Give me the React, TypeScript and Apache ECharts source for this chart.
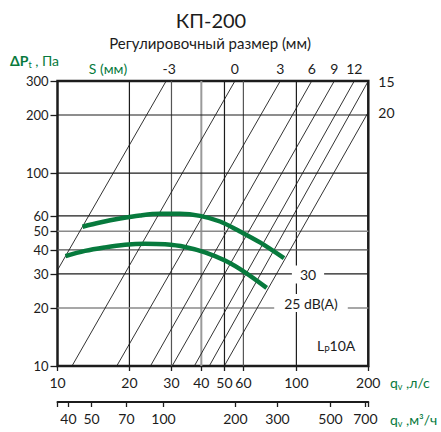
import React, { useEffect, useRef } from "react";
import * as echarts from "echarts";

// axis ticks (l/s, m3/h, Pa)
const X_TICKS = [10, 20, 30, 40, 50, 60, 100, 200];
const X2_TICKS = [40, 50, 70, 100, 200, 300, 500, 700];
const Y_TICKS = [10, 20, 30, 40, 50, 60, 100, 200, 300];
const X_RANGE = [10, 200];
const X2_RANGE = [36, 720];
const Y_RANGE = [10, 300];

// regulation size lines S (mm): start and end points (q l/s, dP Pa)
const S_LABELS = ["-3", "0", "3", "6", "9", "12", "15", "20"];
const S_START_Q = [10, 11.5, 17.7, 24.5, 30.2, 37.4, 43.2, 49.9];
const S_START_P = [31.4, 10, 10, 10, 10, 10, 10, 10];
const S_END_Q = [28.5, 55.3, 85.6, 115.9, 144.1, 174.7, 200, 200];
const S_END_P = [300, 300, 300, 300, 300, 300, 300, 207];

// sound level curves
const DB30_Q = [12.73, 15.06, 18.27, 22.15, 26.86, 32.56, 39.49, 47.88, 58.05, 70.41, 88.74];
const DB30_P = [52.7, 55.4, 58.1, 60.3, 61.5, 61.5, 60.0, 56.1, 49.8, 43.7, 36.2];
const DB25_Q = [10.8, 13.03, 15.8, 19.17, 23.24, 28.18, 34.17, 41.44, 50.25, 60.94, 75.1];
const DB25_P = [37.1, 39.5, 41.2, 42.5, 43.0, 42.7, 41.4, 38.8, 35.2, 30.6, 25.4];

const L = (v: number) => Math.log10(v);
const FONT = "Lato, 'Open Sans', sans-serif";
const GREEN = "#077a3d";
const INK = "#1c1c1c";

const X_GRAY_WIDE = [40];
const X_GRAY = [30, 60];
const Y_GRAY = [50, 20];
const Y_MID = [40];

export default function App() {
  const ref = useRef<HTMLDivElement>(null);
  useEffect(() => {
    const el = ref.current!;
    const chart = echarts.init(el, null, { renderer: "svg" });
    const fmt = (v: number) => String(Math.round(Math.pow(10, v)));
    const series: any[] = [];

    X_TICKS.slice(1, -1).forEach((x) => {
      const style = X_GRAY_WIDE.includes(x)
        ? { color: "#9a9a9a", width: 2 }
        : X_GRAY.includes(x)
        ? { color: "#555", width: 1.2 }
        : { color: INK, width: 1.2 };
      series.push({
        type: "line", silent: true, symbol: "none", z: 1,
        data: [[L(x), L(Y_RANGE[0])], [L(x), L(Y_RANGE[1])]],
        lineStyle: style,
      });
    });
    Y_TICKS.slice(1, -1).forEach((y) => {
      const style = Y_GRAY.includes(y)
        ? { color: "#8a8a8a", width: 1.5 }
        : Y_MID.includes(y)
        ? { color: "#555", width: 1.3 }
        : { color: INK, width: 1.2 };
      series.push({
        type: "line", silent: true, symbol: "none", z: 1,
        data: [[L(X_RANGE[0]), L(y)], [L(X_RANGE[1]), L(y)]],
        lineStyle: style,
      });
    });

    S_LABELS.forEach((lab, i) => {
      const right = S_END_Q[i] >= X_RANGE[1];
      series.push({
        type: "line", silent: true, z: 2, clip: false,
        symbol: "circle", symbolSize: 0, showSymbol: true,
        itemStyle: { color: "transparent" },
        lineStyle: { color: INK, width: 0.9 },
        data: [
          { value: [L(S_START_Q[i]), L(S_START_P[i])], label: { show: false } },
          {
            value: [L(S_END_Q[i]), L(S_END_P[i])],
            label: {
              show: true,
              position: right ? "right" : "top",
              distance: right ? 10 : 6,
              offset: i === 0 ? [3, 0] : [0, 0],
              formatter: lab,
              fontSize: 14,
              color: INK,
              fontFamily: FONT,
            },
          },
        ],
      });
    });

    [
      [DB30_Q, DB30_P],
      [DB25_Q, DB25_P],
    ].forEach(([qs, ps]) => {
      series.push({
        type: "line", silent: true, z: 3, symbol: "none", smooth: 0.35,
        lineStyle: { color: GREEN, width: 4.5, cap: "butt" },
        data: qs.map((q, k) => [L(q), L(ps[k])]),
      });
    });

    const sub = (t: string, color: string) => ({
      text: t,
      rich: {
        a: { fontSize: 14, fontFamily: FONT, fill: color, lineHeight: 18 },
        b: { fontSize: 14, fontFamily: FONT, fill: color, fontWeight: "bold", lineHeight: 18 },
        s: { fontSize: 9, fontFamily: FONT, fill: color, verticalAlign: "bottom", lineHeight: 10 },
      },
    });

    const axisLabel = (vals: number[], size: number) => ({
      customValues: vals.map(L), formatter: fmt, fontSize: size, lineHeight: size,
      color: INK, fontFamily: FONT,
    });

    const option: any = {
      animation: false,
      textStyle: { fontFamily: FONT },
      grid: {
        left: 57.5, top: 81, width: 310.8, height: 285,
        show: true, borderColor: INK, borderWidth: 2.5,
        backgroundColor: "transparent",
        outerBoundsMode: "none",
      },
      xAxis: [
        {
          type: "value", min: L(X_RANGE[0]), max: L(X_RANGE[1]), position: "bottom",
          axisLine: { show: false },
          splitLine: { show: false },
          axisTick: { show: true, customValues: X_TICKS.map(L), length: 5, lineStyle: { color: INK, width: 1.3 } },
          axisLabel: { ...axisLabel(X_TICKS, 14), margin: 9 },
        },
        {
          type: "value", min: L(X2_RANGE[0]), max: L(X2_RANGE[1]), position: "bottom", offset: 36,
          axisLine: { show: true, lineStyle: { color: INK, width: 2 } },
          splitLine: { show: false },
          axisTick: { show: true, customValues: [L(X2_RANGE[0]), ...X2_TICKS.map(L), L(X2_RANGE[1])], length: 5, lineStyle: { color: INK, width: 1.3 } },
          axisLabel: { ...axisLabel(X2_TICKS, 14), margin: 9 },
        },
      ],
      yAxis: {
        type: "value", min: L(Y_RANGE[0]), max: L(Y_RANGE[1]),
        axisLine: { show: false },
        splitLine: { show: false },
        axisTick: { show: true, customValues: Y_TICKS.map(L), length: 7, lineStyle: { color: INK, width: 1.3 } },
        axisLabel: { ...axisLabel(Y_TICKS, 13), margin: 9 },
      },
      series,
      graphic: [
        { type: "text", z: 100, x: 211, y: 20, style: { text: "КП-200", fill: INK, font: `20px ${FONT}`, align: "center", verticalAlign: "middle" } },
        { type: "text", z: 100, x: 210, y: 43, style: { text: "Регулировочный размер (мм)", fill: INK, font: `15px ${FONT}`, align: "center", verticalAlign: "middle" } },
        { type: "text", z: 100, x: 10, y: 60, style: { ...sub("{b|ΔP}{s|t}{a| , Па}", GREEN), align: "left", verticalAlign: "middle" } },
        { type: "text", z: 100, x: 108, y: 68, style: { text: "S (мм)", fill: GREEN, font: `14px ${FONT}`, align: "center", verticalAlign: "middle" } },
        { type: "text", z: 100, x: 390, y: 382, style: { ...sub("{a|q}{s|v}{a| ,л/с}", GREEN), align: "left", verticalAlign: "middle" } },
        { type: "text", z: 100, x: 390, y: 419, style: { ...sub("{a|q}{s|v}{a| ,м³/ч}", GREEN), align: "left", verticalAlign: "middle" } },
        { type: "text", z: 100, x: 317, y: 345, style: { ...sub("{a|L}{s|P}{a|10A}", INK), align: "left", verticalAlign: "middle" } },
        { type: "text", z: 100, x: 308, y: 274.5, style: { text: "30", fill: INK, font: `14px ${FONT}`, align: "center", verticalAlign: "middle", backgroundColor: "#fff", padding: [2, 8] } },
        { type: "text", z: 100, x: 311, y: 303, style: { text: "25 dB(A)", fill: INK, font: `14px ${FONT}`, align: "center", verticalAlign: "middle", backgroundColor: "#fff", padding: [2, 10] } },
      ],
    };
    chart.setOption(option);
    return () => chart.dispose();
  }, []);
  return (
    <div
      ref={ref}
      style={{ position: "fixed", left: 0, top: 0, width: 441, height: 432, background: "#fff" }}
    />
  );
}
